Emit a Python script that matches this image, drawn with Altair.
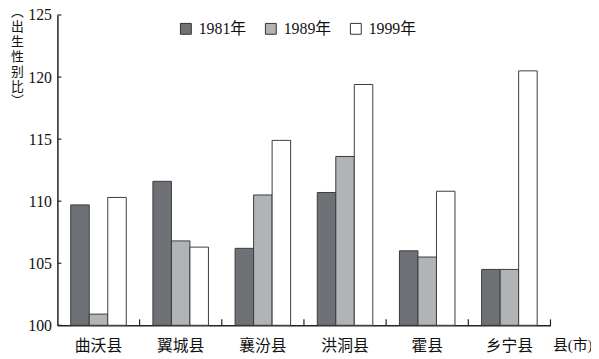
import altair as alt
import pandas as pd

counties = ["曲沃县", "翼城县", "襄汾县", "洪洞县", "霍县", "乡宁县"]
years = ["1981年", "1989年", "1999年"]
v1981 = [109.7, 111.6, 106.2, 110.7, 106.0, 104.5]
v1989 = [100.9, 106.8, 110.5, 113.6, 105.5, 104.5]
v1999 = [110.3, 106.3, 114.9, 119.4, 110.8, 120.5]
y_ticks = [100, 105, 110, 115, 120, 125]
colors = ["#6e7175", "#b1b4b7", "#ffffff"]

rows = []
for yr, vals in zip(years, [v1981, v1989, v1999]):
    for c, v in zip(counties, vals):
        rows.append({"county": c, "year": yr, "value": v})
df = pd.DataFrame(rows)

FONT = "'Times New Roman', 'Liberation Serif', 'Noto Sans CJK SC', serif"
CJK = "Noto Sans CJK SC"
W, H = 499, 314

xscale = alt.Scale(domain=counties, paddingInner=0, paddingOuter=0)
yscale = alt.Scale(domain=[100, 125], nice=False, zero=False)

bars = alt.Chart(df).mark_bar(stroke="#3a3a3a", strokeWidth=1).encode(
    x=alt.X("county:N", sort=counties, scale=xscale,
            axis=alt.Axis(title="县(市)", labelAngle=0, ticks=False, domain=True,
                          domainColor="#222", domainWidth=1.5,
                          labelFont=FONT, labelFontSize=16, labelColor="#111",
                          labelPadding=13, titleFont=FONT, titleFontSize=15,
                          titleFontWeight="normal", titleColor="#111",
                          titleAlign="left", titleAnchor="start", titleBaseline="top",
                          titleX=W + 2, titleY=13)),
    xOffset=alt.XOffset("year:N", sort=years,
                        scale=alt.Scale(paddingInner=0, paddingOuter=0.72)),
    y=alt.Y("value:Q", scale=yscale, stack=None,
            axis=alt.Axis(title=["︵", "出", "生", "性", "别", "比", "︶"],
                          values=y_ticks, ticks=False, grid=False, domain=True,
                          domainColor="#222", domainWidth=1.5,
                          labelFont=FONT, labelFontSize=16, labelColor="#111",
                          labelPadding=6, titleFont=CJK, titleFontSize=13,
                          titleFontWeight="normal", titleColor="#111",
                          titleAngle=0, titleAlign="center", titleBaseline="top",
                          titleLineHeight=15, titleX=-41, titleY=-9)),
    y2=alt.value(H),
    color=alt.Color("year:N", sort=years,
                    scale=alt.Scale(domain=years, range=colors),
                    legend=alt.Legend(title=None, orient="none", direction="horizontal",
                                      legendX=122, legendY=6, padding=0,
                                      symbolType="square", symbolSize=121,
                                      symbolStrokeColor="#333", symbolStrokeWidth=1,
                                      symbolOpacity=1,
                                      labelFont=FONT, labelFontSize=16, labelColor="#111",
                                      labelOffset=5, columnPadding=16)),
)

ytick_df = pd.DataFrame({"v": y_ticks})
yticks = alt.Chart(ytick_df).mark_rule(color="#222", strokeWidth=1.2).encode(
    y=alt.Y("v:Q", scale=yscale), x=alt.value(0), x2=alt.value(4)
)

xtick_df = pd.DataFrame({"county": counties})
xticks = alt.Chart(xtick_df).mark_rule(color="#222", strokeWidth=1.2).encode(
    x=alt.X("county:N", sort=counties, scale=xscale, bandPosition=1),
    y=alt.value(H), y2=alt.value(H - 6)
)

chart = alt.layer(bars, yticks, xticks).properties(
    width=W, height=H,
    autosize=alt.AutoSizeParams(type="none"),
    padding={"left": 50, "top": 5, "right": 41, "bottom": 30},
).configure_view(strokeWidth=0)

chart.save("out.html", embed_options={"renderer": "svg", "actions": False})
